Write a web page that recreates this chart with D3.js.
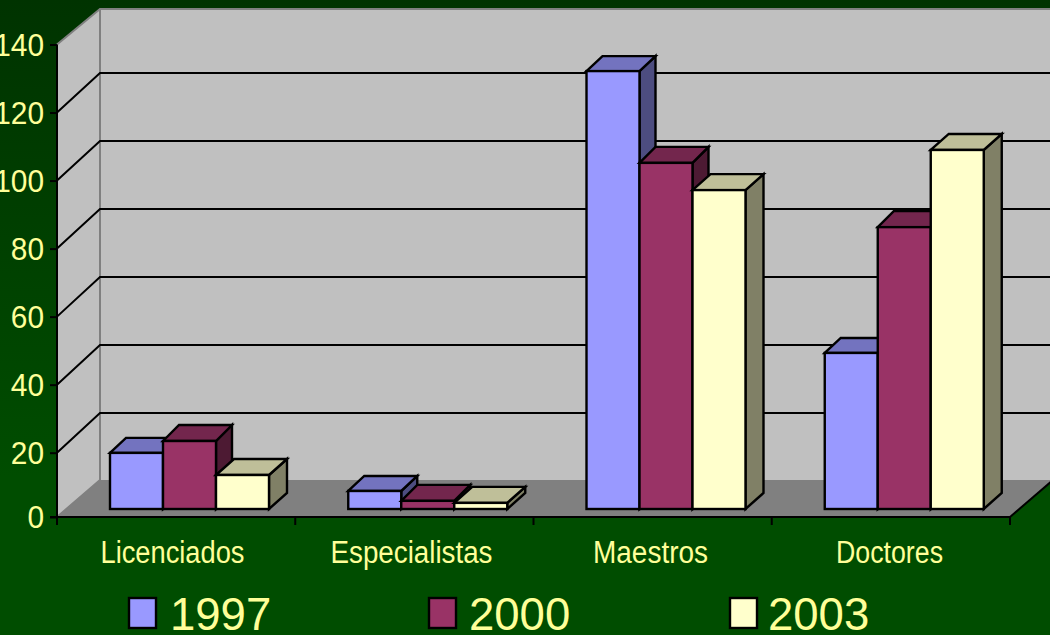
<!DOCTYPE html>
<html>
<head>
<meta charset="utf-8">
<script src="https://cdn.jsdelivr.net/npm/d3@7"></script>
<style>
  html, body { margin: 0; padding: 0; overflow: hidden; }
  svg { display: block; }
  text { font-family: "Liberation Sans", Arial, sans-serif; fill: #ffff99; }
</style>
</head>
<body>
<div class="chart-container"></div>
<script>
var w = 1050;
var h = 635;

var categories = ["Licenciados", "Especialistas", "Maestros", "Doctores"];
var series = ["1997", "2000", "2003"];
var values1997 = [16.5, 5.3, 128.8, 45.9];
var values2000 = [20, 2.4, 101.8, 82.9];
var values2003 = [10, 1.8, 93.8, 105.6];
var yTicks = [0, 20, 40, 60, 80, 100, 120, 140];

var seriesValues = [values1997, values2000, values2003];
var frontColors = ["#9999ff", "#993366", "#ffffcc"];
var topColors = ["#7373bf", "#73264d", "#bfbf99"];
var sideColors = ["#4d4d80", "#4d1a33", "#808066"];

var svg = d3.select(".chart-container")
    .append("svg")
    .attr("width", w)
    .attr("height", h);

var grad = svg.append("defs").append("linearGradient")
    .attr("id", "bg")
    .attr("x1", 0).attr("y1", 0).attr("x2", 0).attr("y2", 1);
grad.append("stop").attr("offset", "0%").attr("stop-color", "#003300");
grad.append("stop").attr("offset", "75%").attr("stop-color", "#004d00");

svg.append("rect")
    .attr("width", w)
    .attr("height", h)
    .attr("fill", "url(#bg)");

// scales: the front edge and the back wall are clipped a bit at both ends
var x = d3.scaleBand().domain(categories).range([57, 1010]);
var xLabel = d3.scaleBand().domain(categories).range([53, 1009]);
var xBar = d3.scaleBand().domain(series).range([53, 212]);
var yFront = d3.scaleLinear().domain([0, 20, 140]).range([517, 452.7, 44.5]);
var yBack = d3.scaleLinear().domain([0, 20, 120, 140]).range([480, 413, 73, 9]);
var yBar = d3.scaleLinear().domain([0, 140]).range([509, 33]);

var line = d3.line();

// walls
svg.append("path")
    .attr("d", line([[57, yFront(140)], [100, yBack(140)], [100, yBack(0)], [57, yFront(0)]]) + "Z")
    .attr("fill", "#c0c0c0");
svg.append("rect")
    .attr("x", 100)
    .attr("y", yBack(140))
    .attr("width", w - 100)
    .attr("height", yBack(0) - yBack(140))
    .attr("fill", "#c0c0c0");
svg.append("path")
    .attr("d", line([[57, yFront(0)], [100, yBack(0)], [1053, yBack(0)], [1010, yFront(0)]]) + "Z")
    .attr("fill", "#808080");

// wall edges
svg.append("path")
    .attr("d", line([[57, yFront(140)], [100, yBack(140)], [w, yBack(140)]]))
    .attr("fill", "none")
    .attr("stroke", "#808080")
    .attr("stroke-width", 2);
svg.append("path")
    .attr("d", line([[100, yBack(140)], [100, yBack(0)], [57, yFront(0)]]))
    .attr("fill", "none")
    .attr("stroke", "#808080")
    .attr("stroke-width", 2);

// gridlines
var gridTicks = yTicks.filter(function(d) { return d > 0 && d < 140; });
svg.selectAll(".grid")
    .data(gridTicks)
    .enter()
    .append("path")
    .attr("class", "grid")
    .attr("d", function(d) {
        return line([[57, yFront(d)], [100, yBack(d)], [w, yBack(d)]]);
    })
    .attr("fill", "none")
    .attr("stroke", "#000")
    .attr("stroke-width", 2);

// bars, each with a front, top and side face
var depthX = [16, 16, 18];
var depthY = [15, 16, 16];

categories.forEach(function(cat, i) {
    series.forEach(function(s, j) {
        var x0 = x(cat) + xBar(s);
        var x1 = x0 + xBar.bandwidth();
        var yT = yBar(seriesValues[j][i]);
        var yB = yBar(0);
        var dx = depthX[j];
        var dy = depthY[j];
        var g = svg.append("g")
            .attr("stroke", "#000")
            .attr("stroke-width", 2.4)
            .attr("stroke-linejoin", "miter");
        g.append("path")
            .attr("d", line([[x1, yT], [x1 + dx, yT - dy], [x1 + dx, yB - dy], [x1, yB]]) + "Z")
            .attr("fill", sideColors[j]);
        g.append("path")
            .attr("d", line([[x0, yT], [x0 + dx, yT - dy], [x1 + dx, yT - dy], [x1, yT]]) + "Z")
            .attr("fill", topColors[j]);
        g.append("rect")
            .attr("x", x0)
            .attr("y", yT)
            .attr("width", x1 - x0)
            .attr("height", yB - yT)
            .attr("fill", frontColors[j]);
    });
});

// axes
var yAxis = d3.axisLeft(yFront)
    .tickValues(yTicks)
    .tickSize(7)
    .tickPadding(6)
    .tickFormat(d3.format("d"));
var yG = svg.append("g")
    .attr("transform", "translate(57,0)")
    .call(yAxis);
yG.select(".domain").remove();
yG.selectAll("line").attr("stroke", "#000").attr("stroke-width", 2);
yG.attr("font-family", null);
yG.selectAll("text")
    .attr("font-size", 32)
    .attr("dy", "0.34em")
    .attr("textLength", function(d) { return String(d).length * 16.6; })
    .attr("lengthAdjust", "spacingAndGlyphs");

svg.append("line")
    .attr("x1", 57).attr("x2", 57)
    .attr("y1", yFront(140)).attr("y2", 525)
    .attr("stroke", "#000").attr("stroke-width", 2);
svg.append("line")
    .attr("x1", 50).attr("x2", 1010)
    .attr("y1", yFront(0)).attr("y2", yFront(0))
    .attr("stroke", "#000").attr("stroke-width", 2);
svg.append("path")
    .attr("d", line([[1010, yFront(0)], [1053, yBack(0)]]))
    .attr("stroke", "#000").attr("stroke-width", 2).attr("fill", "none");

svg.selectAll(".cat-tick")
    .data(categories)
    .enter()
    .append("line")
    .attr("class", "cat-tick")
    .attr("x1", function(d) { return x(d) + x.bandwidth(); })
    .attr("x2", function(d) { return x(d) + x.bandwidth(); })
    .attr("y1", yFront(0))
    .attr("y2", 525)
    .attr("stroke", "#000")
    .attr("stroke-width", 2);

// category labels are squeezed sideways in the original
var labelWidths = [144, 162, 115, 107];
svg.selectAll(".cat-label")
    .data(categories)
    .enter()
    .append("text")
    .attr("class", "cat-label")
    .attr("x", function(d) { return xLabel(d) + xLabel.bandwidth() / 2; })
    .attr("y", 563)
    .attr("text-anchor", "middle")
    .attr("font-size", 31)
    .attr("textLength", function(d, i) { return labelWidths[i]; })
    .attr("lengthAdjust", "spacingAndGlyphs")
    .text(function(d) { return d; });

// legend
var legendX = d3.scaleOrdinal().domain(series).range([128, 428, 729]);
var legendTextX = d3.scaleOrdinal().domain(series).range([170, 469, 768]);
svg.selectAll(".legend-box")
    .data(series)
    .enter()
    .append("rect")
    .attr("class", "legend-box")
    .attr("x", function(d) { return legendX(d) + 1; })
    .attr("y", 598)
    .attr("width", 27)
    .attr("height", 30)
    .attr("fill", function(d, i) { return frontColors[i]; })
    .attr("stroke", "#000")
    .attr("stroke-width", 2.4);
svg.selectAll(".legend-label")
    .data(series)
    .enter()
    .append("text")
    .attr("class", "legend-label")
    .attr("x", function(d) { return legendTextX(d); })
    .attr("y", 630)
    .attr("font-size", 45.5)
    .text(function(d) { return d; });
</script>
</body>
</html>
